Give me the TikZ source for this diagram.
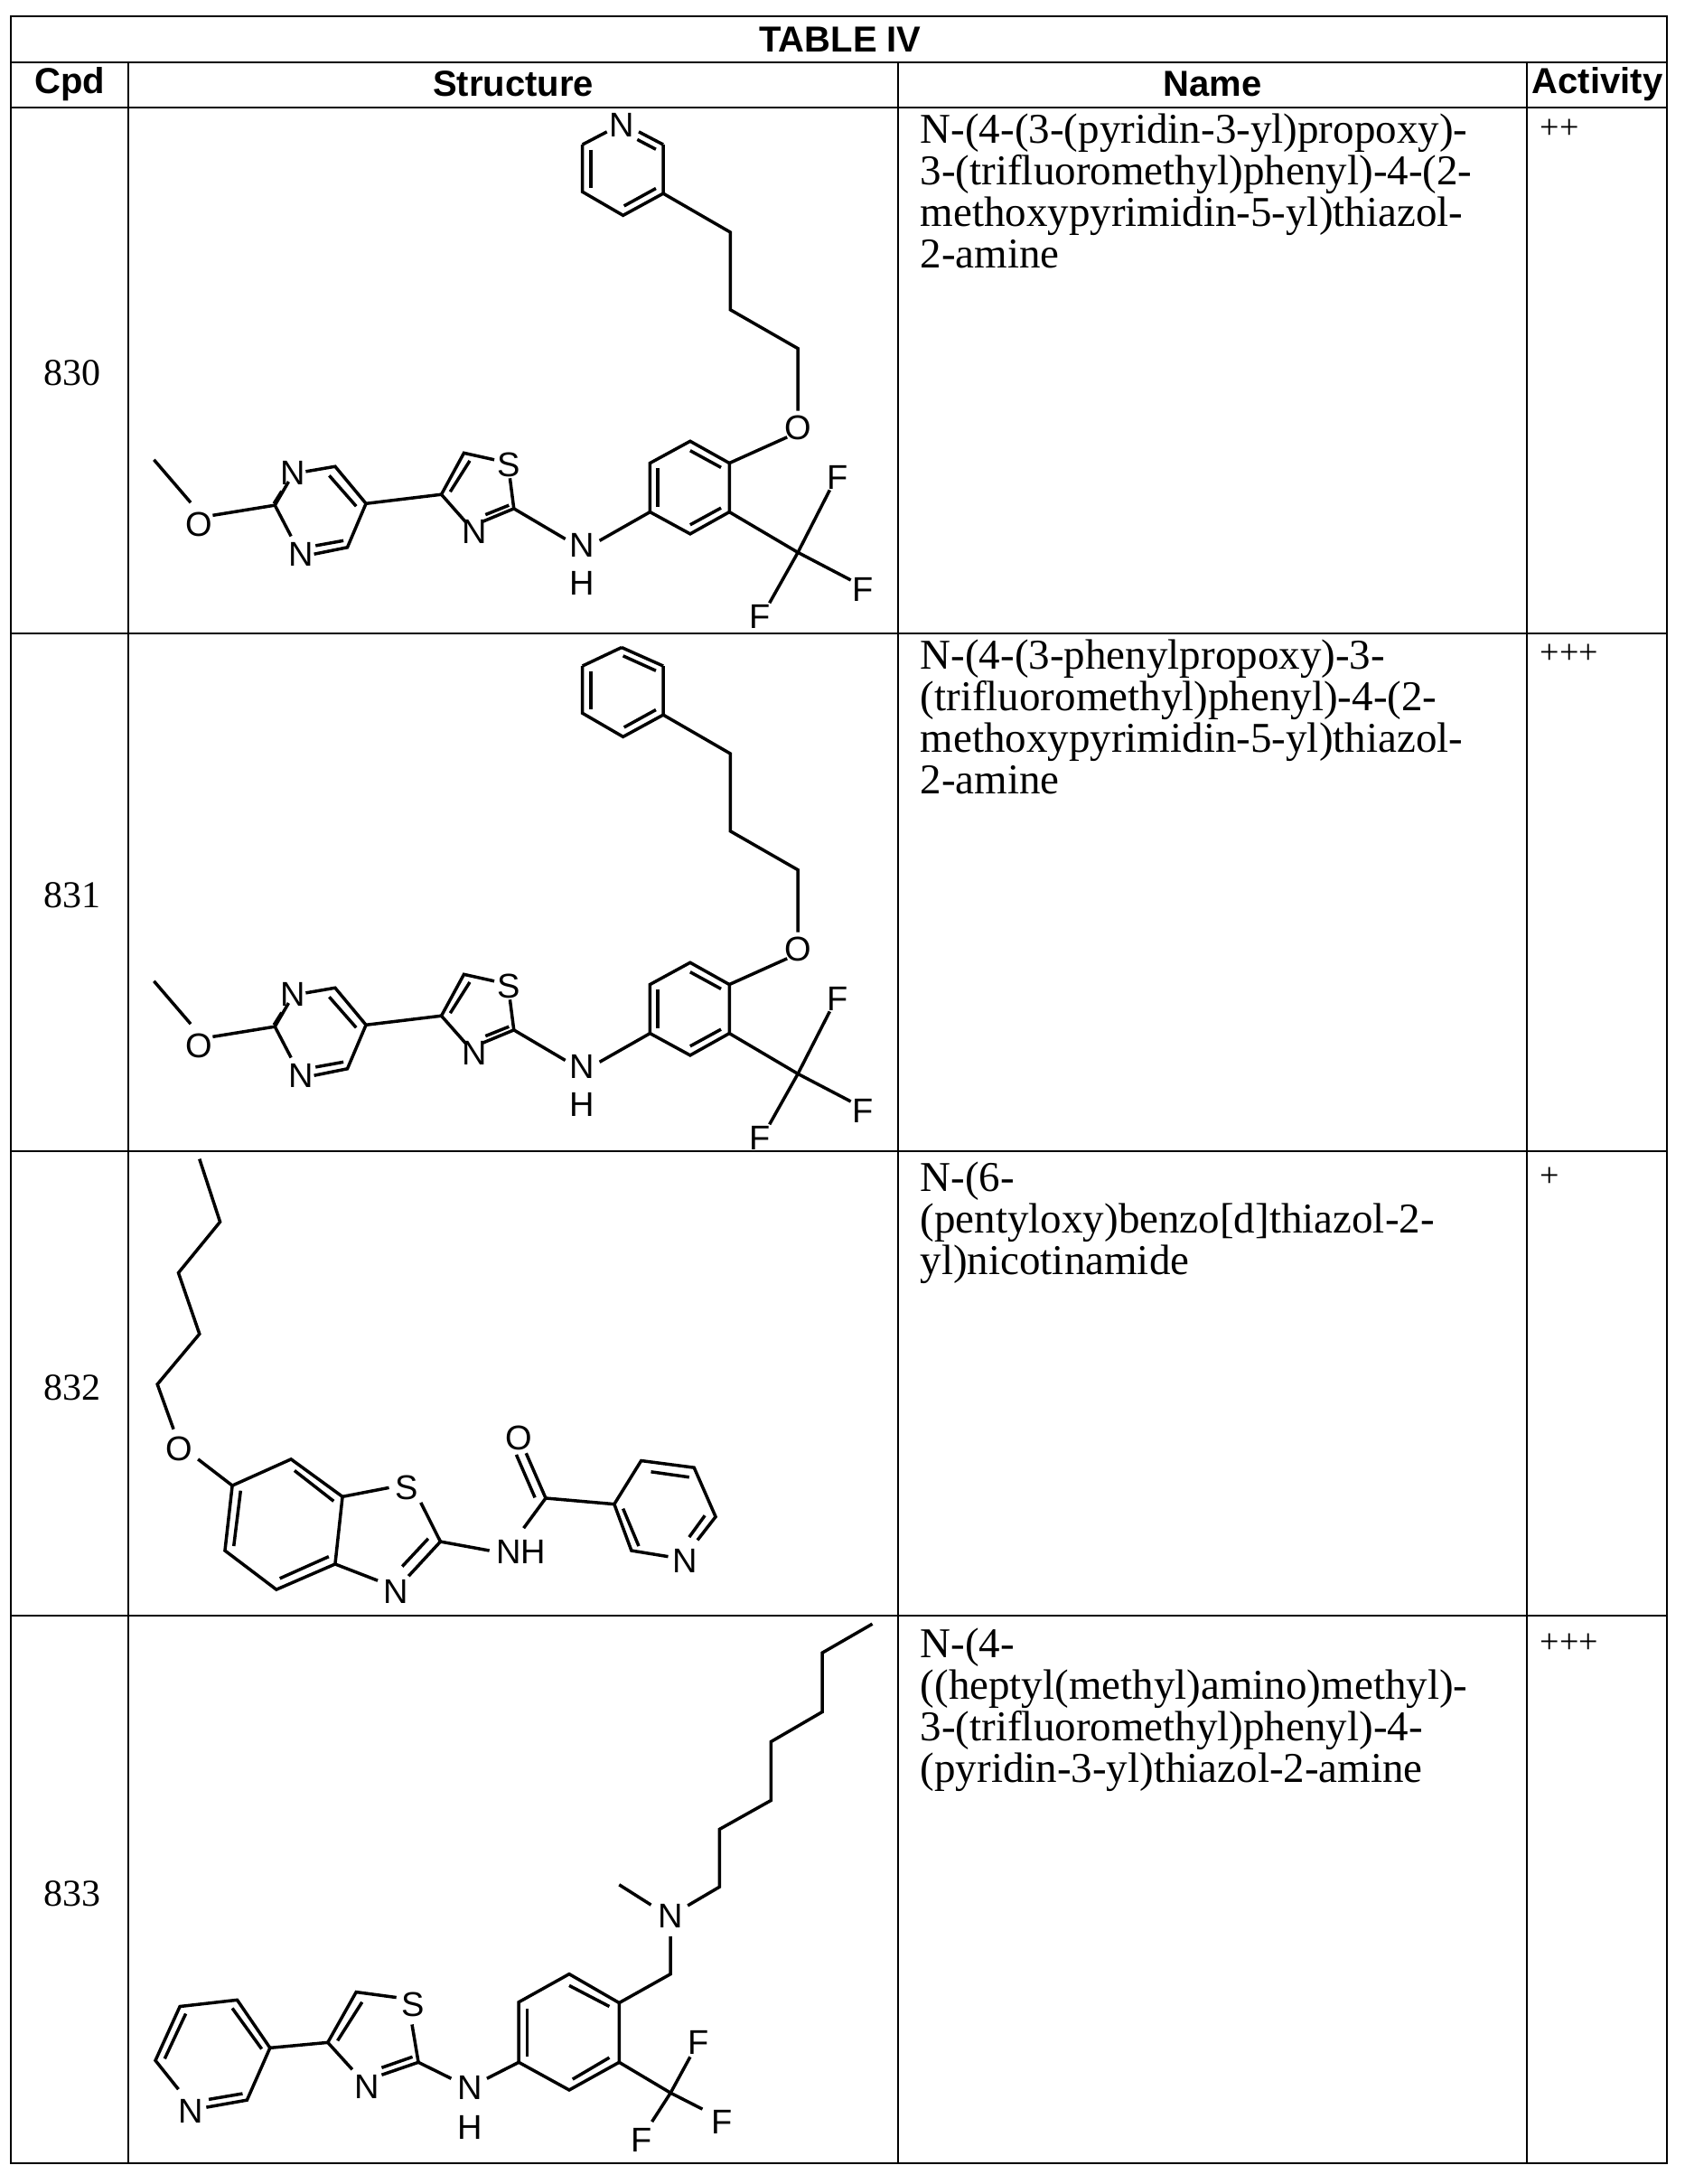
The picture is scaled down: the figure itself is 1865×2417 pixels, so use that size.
\documentclass[tikz,border=0pt]{standalone}
\usepackage{fontspec}
\setmainfont{Liberation Serif}
\setsansfont{Liberation Sans}
\begin{document}
\begin{tikzpicture}[x=1pt,y=-1pt,line width=3.5pt,
  atom/.style={font=\sffamily\fontsize{38}{38}\selectfont,inner sep=0pt},
  grid/.style={line width=2.5pt},
  hdr/.style={font=\sffamily\bfseries\fontsize{40}{40}\selectfont},
  cpd/.style={font=\fontsize{42}{42}\selectfont},
  nm/.style={font=\fontsize{47}{46}\selectfont,anchor=north west,align=left,inner sep=0pt},
  act/.style={font=\fontsize{38}{38}\selectfont,anchor=north west,inner sep=0pt}]
\useasboundingbox (0,0) rectangle (1865,2417);
% grid
\draw[grid] (12,18) rectangle (1845,2394);
\foreach \y in {69,119,701,1274,1788} \draw[grid] (12,\y) -- (1845,\y);
\foreach \x in {142,994,1690} \draw[grid] (\x,69) -- (\x,2394);
\node[hdr] (title) at (930,44) {TABLE IV};
\node[hdr] (h1) at (77,93) {Cpd};
\node[hdr] (h2) at (568,93) {Structure};
\node[hdr] (h3) at (1342,93) {Name};
\node[hdr] (h4) at (1768,93) {Activity};
\node[cpd] (c830) at (80,413) {830};
\node[cpd] (c831) at (80,991) {831};
\node[cpd] (c832) at (80,1536) {832};
\node[cpd] (c833) at (80,2096) {833};
\node[nm] (n830) at (1017,124) {N-(4-(3-(pyridin-3-yl)propoxy)-\\3-(trifluoromethyl)phenyl)-4-(2-\\methoxypyrimidin-5-yl)thiazol-\\2-amine};
\node[nm] (n831) at (1017,706) {N-(4-(3-phenylpropoxy)-3-\\(trifluoromethyl)phenyl)-4-(2-\\methoxypyrimidin-5-yl)thiazol-\\2-amine};
\node[nm] (n832) at (1017,1284) {N-(6-\\(pentyloxy)benzo[d]thiazol-2-\\yl)nicotinamide};
\node[nm] (n833) at (1017,1800) {N-(4-\\((heptyl(methyl)amino)methyl)-\\3-(trifluoromethyl)phenyl)-4-\\(pyridin-3-yl)thiazol-2-amine};
\node[act] (a830) at (1703,130) {++};
\node[act] (a831) at (1703,711) {+++};
\node[act] (a832) at (1703,1290) {+};
\node[act] (a833) at (1703,1806) {+++};
% ---- 830 and 831
\foreach \dy/\pyr in {0/1,577/0}{
\begin{scope}[shift={(146,119+\dy)},xscale=0.542,yscale=0.373]
 \ifnum\pyr=1
  \node[atom] (pn\dy) at (1000,52) {N};
  \draw (970,72) -- (920,110);
  \draw (1035,72) -- (1085,110);
  \draw (1032,95) -- (1070,124);
 \else
  \draw (1000,55) -- (920,110);
  \draw (1000,55) -- (1085,110);
  \draw (1003,80) -- (1070,124);
 \fi
 \draw (920,110) -- (920,250) -- (1003,320) -- (1085,255) -- (1085,110);
 \draw (937,125) -- (937,238);
 \draw (1005,292) -- (1070,240);
 \draw (1085,255) -- (1222,370) -- (1222,600) -- (1360,715) -- (1360,900);
 \node[atom] (o1\dy) at (1360,950) {O};
 \draw (1338,978) -- (1220,1055);
 \draw (1140,990) -- (1220,1055) -- (1220,1200) -- (1140,1265) -- (1058,1200) -- (1058,1055) -- cycle;
 \draw (1140,1018) -- (1203,1068);
 \draw (1074,1070) -- (1074,1185);
 \draw (1140,1238) -- (1203,1188);
 \draw (1220,1200) -- (1360,1320);
 \draw (1360,1320) -- (1425,1135);
 \draw (1360,1320) -- (1468,1402);
 \draw (1360,1320) -- (1302,1470);
 \node[atom] (f1\dy) at (1442,1098) {F};
 \node[atom] (f2\dy) at (1492,1430) {F};
 \node[atom] (f3\dy) at (1282,1510) {F};
 \draw (1058,1200) -- (955,1285);
 \node[atom] (nh\dy) at (920,1300) {N};
 \node[atom] (hh\dy) at (920,1412) {H};
 \draw (885,1280) -- (780,1190);
 \node[atom] (s\dy) at (770,1060) {S};
 \draw (780,1190) -- (772,1100);
 \draw (740,1045) -- (678,1025) -- (632,1148);
 \draw (690,1048) -- (650,1140);
 \draw (632,1148) -- (683,1232);
 \node[atom] (n3\dy) at (700,1258) {N};
 \draw (717,1228) -- (780,1190);
 \draw (722,1208) -- (770,1180);
 \draw (632,1148) -- (478,1175);
 \draw (355,1080) -- (415,1065) -- (478,1175) -- (440,1305) -- (372,1325);
 \draw (403,1092) -- (458,1183);
 \draw (375,1300) -- (432,1285);
 \node[atom] (pm1\dy) at (328,1085) {N};
 \node[atom] (pm2\dy) at (345,1325) {N};
 \draw (320,1110) -- (292,1180) -- (325,1272);
 \draw (306,1138) -- (290,1175);
 \draw (292,1180) -- (165,1210);
 \node[atom] (om\dy) at (137,1238) {O};
 \draw (120,1172) -- (45,1045);
\end{scope}}
% ---- 832
\begin{scope}[shift={(146,1270)},xscale=0.542,yscale=0.3316]
 \draw (138,38) -- (180,248) -- (95,418) -- (138,622) -- (52,790) -- (85,940);
 \node[atom] (o832) at (97,1005) {O};
 \draw (135,1040) -- (205,1128);
 \draw (205,1128) -- (325,1040) -- (430,1165) -- (415,1390) -- (295,1475) -- (190,1345) -- cycle;
 \draw (332,1078) -- (412,1180);
 \draw (222,1145) -- (208,1330);
 \draw (302,1438) -- (402,1365);
 \draw (430,1165) -- (525,1135);
 \node[atom] (s832) at (562,1135) {S};
 \draw (590,1185) -- (630,1315) -- (565,1430);
 \draw (605,1305) -- (552,1398);
 \node[atom] (n832) at (540,1482) {N};
 \draw (502,1445) -- (415,1390);
 \draw (630,1315) -- (730,1345);
 \node[atom] (nh832) at (795,1350) {NH};
 \draw (800,1270) -- (845,1170) -- (805,1020);
 \draw (823,1168) -- (785,1025);
 \node[atom] (oc832) at (790,970) {O};
 \draw (845,1170) -- (985,1190);
 \draw (985,1190) -- (1040,1045) -- (1148,1068) -- (1192,1232) -- (1155,1310);
 \draw (1060,1082) -- (1138,1100);
 \draw (1170,1228) -- (1138,1300);
 \node[atom] (np832) at (1130,1380) {N};
 \draw (1095,1365) -- (1020,1345) -- (985,1190);
 \draw (1035,1330) -- (1003,1205);
\end{scope}
% ---- 833
\begin{scope}[shift={(146,1790)},xscale=0.542,yscale=0.3986]
 \draw (1512,18) -- (1410,98) -- (1410,262) -- (1305,345) -- (1305,508) -- (1200,588) -- (1200,748) -- (1135,800);
 \node[atom] (na833) at (1100,830) {N};
 \draw (995,742) -- (1060,798);
 \draw (1100,885) -- (1100,990) -- (995,1070);
 \draw (893,990) -- (995,1070) -- (995,1235) -- (893,1312) -- (790,1235) -- (790,1068) -- cycle;
 \draw (893,1022) -- (975,1080);
 \draw (807,1085) -- (807,1220);
 \draw (975,1222) -- (900,1282);
 \draw (995,1235) -- (1100,1320);
 \draw (1100,1320) -- (1140,1220);
 \draw (1100,1320) -- (1165,1365);
 \draw (1100,1320) -- (1062,1400);
 \node[atom] (f1833) at (1157,1180) {F};
 \node[atom] (f2833) at (1205,1400) {F};
 \node[atom] (f3833) at (1040,1452) {F};
 \draw (790,1235) -- (725,1280);
 \node[atom] (nh833) at (690,1305) {N};
 \node[atom] (hh833) at (690,1415) {H};
 \draw (652,1280) -- (585,1235);
 \node[atom] (s833) at (575,1075) {S};
 \draw (585,1235) -- (572,1130);
 \draw (540,1055) -- (458,1040) -- (400,1180);
 \draw (470,1068) -- (420,1175);
 \draw (400,1180) -- (450,1255);
 \node[atom] (n3833) at (480,1302) {N};
 \draw (510,1270) -- (585,1235);
 \draw (510,1250) -- (573,1220);
 \draw (400,1180) -- (282,1195);
 \draw (282,1195) -- (215,1062) -- (98,1080) -- (48,1230) -- (95,1310);
 \draw (265,1198) -- (205,1085);
 \draw (110,1100) -- (67,1225);
 \node[atom] (np833) at (120,1370) {N};
 \draw (152,1360) -- (235,1340) -- (282,1195);
 \draw (157,1338) -- (226,1322);
\end{scope}
\end{tikzpicture}
\end{document}
